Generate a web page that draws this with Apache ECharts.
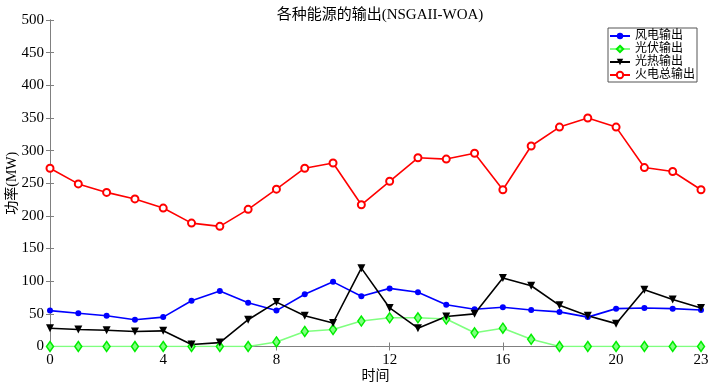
<!DOCTYPE html>
<html><head><meta charset="utf-8">
<script src="https://cdn.jsdelivr.net/npm/echarts@6/dist/echarts.min.js"></script>
<style>html,body{margin:0;padding:0;background:#fff}#c{width:708px;height:385px}</style>
</head><body><div id="c"></div>
<script>
const hours = [0,1,2,3,4,5,6,7,8,9,10,11,12,13,14,15,16,17,18,19,20,21,22,23];
const xTickLabels = [0,4,8,12,16,20,23];
const windOut = [55,51,47,41,45,70,85,67,55,80,99,77,89,83,64,57,60,56,53,45,58,59,58,56];
const pvOut = [0,0,0,0,0,0,0,0,7,23,26,39,44,44,42,21,28,11,0,0,0,0,0,0];
const cspOut = [28,26,25,23,24,3,6,41,68,47,36,120,59,28,46,50,105,93,63,47,35,87,72,59];
const thermalOut = [273,249,236,226,212,189,184,210,241,273,281,217,253,289,287,296,240,307,336,350,336,274,268,240];
const seriesNames = ['风电输出','光伏输出','光热输出','火电总输出'];

const FONT = '"Liberation Serif","Noto Sans CJK SC",serif';
const pair = arr => hours.map((h,i)=>[h,arr[i]]);
const chart = echarts.init(document.getElementById('c'));
const axisGray = '#808080';
chart.setOption({
  animation:false,
  backgroundColor:'#fff',
  title:{text:'各种能源的输出(NSGAII-WOA)',left:375,textAlign:'center',top:3,
    textStyle:{fontFamily:FONT,fontSize:15,fontWeight:'normal',color:'#000'}},
  grid:{left:50,right:7,top:20,bottom:38.5,outerBoundsMode:'none',containLabel:false},
  legend:{orient:'vertical',left:608,top:28,itemWidth:20,itemHeight:8,itemGap:1,
    padding:[2,2,1,1],borderColor:'#555',borderWidth:1,backgroundColor:'#fff',
    textStyle:{fontFamily:FONT,fontSize:12,color:'#000'},data:seriesNames},
  xAxis:[{type:'value',min:0,max:23,position:'bottom',
    name:'时间',nameLocation:'middle',nameGap:23,nameMoveOverlap:false,
    nameTextStyle:{fontFamily:FONT,fontSize:14,color:'#000'},
    axisLine:{show:true,lineStyle:{color:axisGray,width:1}},
    axisTick:{show:true,inside:true,length:4,customValues:xTickLabels,lineStyle:{color:axisGray}},
    axisLabel:{customValues:xTickLabels,fontFamily:FONT,fontSize:15,color:'#000',margin:6},
    splitLine:{show:false}},
   {type:'value',min:0,max:23,position:'top',
    axisLine:{show:true,lineStyle:{color:axisGray,width:1}},
    axisTick:{show:true,inside:true,length:4,customValues:xTickLabels,lineStyle:{color:axisGray}},
    axisLabel:{show:false},splitLine:{show:false}}],
  yAxis:[{type:'value',min:0,max:500,interval:50,position:'left',
    name:'功率(MW)',nameLocation:'middle',nameGap:31,nameRotate:90,nameMoveOverlap:false,
    nameTextStyle:{fontFamily:FONT,fontSize:14,color:'#000'},
    axisLine:{show:true,lineStyle:{color:axisGray,width:1}},
    axisTick:{show:true,inside:true,length:4,lineStyle:{color:axisGray}},
    axisLabel:{fontFamily:FONT,fontSize:15,color:'#000',margin:6},
    splitLine:{show:false}},
   {type:'value',min:0,max:500,interval:50,position:'right',
    axisLine:{show:true,lineStyle:{color:axisGray,width:1}},
    axisTick:{show:true,inside:true,length:4,lineStyle:{color:axisGray}},
    axisLabel:{show:false},splitLine:{show:false}}],
  series:[
    {name:seriesNames[0],type:'line',data:pair(windOut),color:'#0000ff',
      symbol:'circle',symbolSize:6,lineStyle:{width:1.6},itemStyle:{color:'#0000ff'}},
    {name:seriesNames[1],type:'line',data:pair(pvOut),color:'#00ee00',
      symbol:'diamond',symbolSize:[7,10],lineStyle:{width:1.6},
      itemStyle:{color:'#7fff7f',borderColor:'#00ee00',borderWidth:1.5}},
    {name:seriesNames[2],type:'line',data:pair(cspOut),color:'#000',
      symbol:'triangle',symbolRotate:180,symbolSize:8,lineStyle:{width:1.6},itemStyle:{color:'#000'}},
    {name:seriesNames[3],type:'line',data:pair(thermalOut),color:'#ff0000',
      symbol:'emptyCircle',symbolSize:7,lineStyle:{width:1.6},
      itemStyle:{color:'#ff0000',borderColor:'#ff0000',borderWidth:1.5}}
  ]
});
</script></body></html>
